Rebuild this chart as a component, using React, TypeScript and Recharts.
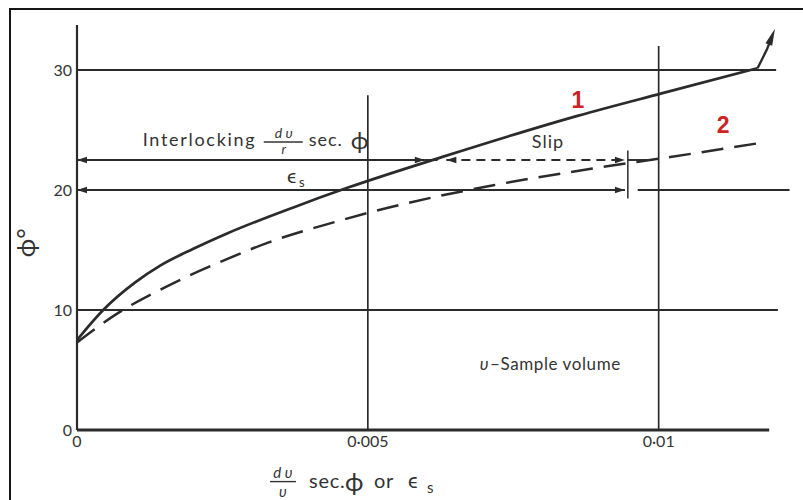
import React from 'react';
import { ComposedChart, Line, XAxis, YAxis, ReferenceLine, ReferenceDot } from 'recharts';

// Strain axis ticks and their printed labels (raised decimal point)
const strainTicks = [0, 0.005, 0.01];
const strainTickLabels = ['0', '0·005', '0·01'];
const phiTicks = [0, 10, 20, 30];

// Curve 1 (solid): angle of friction vs dv/v sec φ
const curve1Strain = [0, 0.00045, 0.001, 0.00143, 0.002, 0.00259, 0.00372, 0.00466, 0.00631, 0.00862, 0.01005, 0.0117];
const curve1Phi = [7.5, 10.0, 12.3, 13.7, 15.1, 16.4, 18.55, 20.2, 22.8, 26.2, 28.05, 30.15];

// Final upturn of curve 1 ending in an arrow
const tipStrain = [0.0117, 0.01186, 0.0119];
const tipPhi = [30.15, 31.7, 32.2];

// Curve 2 (dashed): φ against εs
const curve2Strain = [0, 0.00069, 0.0016, 0.00246, 0.00345, 0.00441, 0.00533, 0.00716, 0.00888, 0.0102, 0.01172];
const curve2Phi = [7.3, 9.7, 12.1, 14.0, 15.9, 17.3, 18.5, 20.4, 21.8, 22.75, 23.9];

// Construction lines
const gridPhi = [10, 30];
const interlockPhi = 22.5;
const strainPhi = 20;
const interlockEnd = 0.00598;
const curve1Cross = 0.0062;
const slipStart = 0.00635;
const slipEnd = 0.00942;

const curve1 = curve1Strain.map((x, i) => ({ x, phi: curve1Phi[i] }));
const tip = tipStrain.map((x, i) => ({ x, phi: tipPhi[i] }));
const curve2 = curve2Strain.map((x, i) => ({ x, phi: curve2Phi[i] }));

const INK = '#2b2b2b';
const TEXT = '#333333';
const RED = '#cc2323';
const FONT = "Lato, 'DejaVu Sans', sans-serif";

function head(tx: number, ty: number, fx: number, fy: number, len = 10, half = 3.2) {
  const dx = tx - fx;
  const dy = ty - fy;
  const d = Math.hypot(dx, dy) || 1;
  const ux = dx / d;
  const uy = dy / d;
  const bx = tx - ux * len;
  const by = ty - uy * len;
  const px = -uy * half;
  const py = ux * half;
  return (
    <polygon
      points={`${tx},${ty} ${bx + px},${by + py} ${bx - px},${by - py}`}
      fill={INK}
    />
  );
}

type SegOpts = { start?: boolean; end?: boolean; width?: number; dash?: string };

const segShape = (o: SegOpts = {}) => (p: any) => {
  const { x1, y1, x2, y2 } = p;
  return (
    <g>
      <line
        x1={x1}
        y1={y1}
        x2={x2}
        y2={y2}
        stroke={INK}
        strokeWidth={o.width ?? 1.9}
        strokeDasharray={o.dash}
      />
      {o.start && head(x1, y1, x2, y2)}
      {o.end && head(x2, y2, x1, y1)}
    </g>
  );
};

// Arrowhead drawn at the last point of the upturn
const TipHead = (p: any) => {
  const { cx, cy, index, points } = p;
  if (index !== tipStrain.length - 1 || cx == null) return <g key={`tip-${index}`} />;
  const prev = points && points[index - 1];
  const fx = prev ? prev.x : cx - 1;
  const fy = prev ? prev.y : cy + 8;
  const d = Math.hypot(cx - fx, cy - fy) || 1;
  const tx = cx + ((cx - fx) / d) * 16;
  const ty = cy + ((cy - fy) / d) * 16;
  return <g key={`tip-${index}`}>{head(tx, ty, cx, cy, 17, 3.6)}</g>;
};

const textProps = { fill: TEXT, fontFamily: FONT };

const InterlockingLabel = (p: any) => (
  <g transform={`translate(${p.cx},${p.cy})`} {...textProps}>
    <text x={0} y={0} fontSize={18} letterSpacing={1.7}>Interlocking</text>
    <text x={141} y={-8} fontSize={14} fontStyle="italic" textAnchor="middle">d υ</text>
    <line x1={121} y1={-4} x2={160} y2={-4} stroke={TEXT} strokeWidth={1.4} />
    <text x={141} y={8} fontSize={13} fontStyle="italic" textAnchor="middle">r</text>
    <text x={166} y={0} fontSize={18} letterSpacing={1}>sec.</text>
    <text x={208} y={3} fontSize={24}>ϕ</text>
  </g>
);

const EpsLabel = (p: any) => (
  <g transform={`translate(${p.cx},${p.cy})`} {...textProps}>
    <text x={0} y={0} fontSize={20}>ϵ</text>
    <text x={12} y={4} fontSize={13}>s</text>
  </g>
);

const SlipLabel = (p: any) => (
  <text x={p.cx} y={p.cy} fontSize={18} letterSpacing={1} {...textProps}>Slip</text>
);

const VolumeLabel = (p: any) => (
  <text x={p.cx} y={p.cy} fontSize={17} letterSpacing={0.6} textAnchor="end" {...textProps}>
    <tspan fontStyle="italic" fontSize={17}>υ</tspan>
    <tspan dx={1}>–</tspan>
    <tspan>Sample  volume</tspan>
  </text>
);

const RedNum = (label: string) => (p: any) => (
  <text
    x={p.cx}
    y={p.cy}
    fontSize={23}
    fontWeight="bold"
    fill={RED}
    fontFamily="'Liberation Sans', Arial, sans-serif"
    textAnchor="middle"
    dominantBaseline="central"
  >
    {label}
  </text>
);

const PhiTitle = (p: any) => (
  <text
    x={p.cx}
    y={p.cy}
    fontSize={25}
    textAnchor="middle"
    dominantBaseline="central"
    transform={`rotate(-90, ${p.cx}, ${p.cy})`}
    {...textProps}
  >
    ϕ°
  </text>
);

const StrainTitle = (p: any) => (
  <g transform={`translate(${p.cx},${p.cy})`} {...textProps}>
    <text x={14} y={-10} fontSize={15} fontStyle="italic" textAnchor="middle">d υ</text>
    <line x1={1} y1={-6} x2={27} y2={-6} stroke={TEXT} strokeWidth={1.4} />
    <text x={14} y={9} fontSize={15} fontStyle="italic" textAnchor="middle">υ</text>
    <text x={40} y={0} fontSize={20} letterSpacing={0.8}>sec.</text>
    <text x={76} y={3} fontSize={25}>ϕ</text>
    <text x={105} y={0} fontSize={20} letterSpacing={0.8}>or</text>
    <text x={139} y={0} fontSize={21}>ϵ</text>
    <text x={158} y={5} fontSize={15}>s</text>
  </g>
);

export default function App() {
  return (
    <div
      style={{
        position: 'absolute',
        left: 0,
        top: 0,
        width: 803,
        height: 500,
        background: '#ffffff',
        overflow: 'hidden',
      }}
    >
      <div
        style={{
          position: 'absolute',
          left: 9,
          top: 8,
          width: 803,
          height: 500,
          borderLeft: '2px solid #161616',
          borderTop: '2px solid #161616',
        }}
      />
      <div style={{ position: 'absolute', left: 0, top: 0 }}>
        <ComposedChart width={803} height={500} margin={{ top: 22, right: 28, bottom: 0, left: 0 }}>
          <XAxis
            dataKey="x"
            type="number"
            domain={[0, 0.012]}
            allowDataOverflow
            ticks={strainTicks}
            tickFormatter={(v: number) => strainTickLabels[strainTicks.indexOf(v)] ?? ''}
            axisLine={false}
            tickLine={false}
            tickSize={3}
            tickMargin={3}
            height={70}
            tick={{ fontSize: 16, fill: TEXT, fontFamily: FONT }}
          />
          <YAxis
            type="number"
            domain={[0, 34]}
            allowDataOverflow
            ticks={phiTicks}
            axisLine={false}
            tickLine={false}
            tickSize={3}
            tickMargin={2}
            width={77}
            tick={{ fontSize: 16, fill: TEXT, fontFamily: FONT }}
          />

          {/* horizontal guide lines */}
          {gridPhi.map((v) => (
            <ReferenceLine
              key={`g${v}`}
              segment={[{ x: 0, y: v }, { x: v === 30 ? 0.01202 : 0.01205, y: v }]}
              ifOverflow="visible"
              shape={segShape({ width: 2 })}
            />
          ))}
          {/* vertical guide lines */}
          <ReferenceLine segment={[{ x: 0.005, y: 0 }, { x: 0.005, y: 27.9 }]} ifOverflow="visible" shape={segShape({ width: 1.7 })} />
          <ReferenceLine segment={[{ x: 0.01, y: 0 }, { x: 0.01, y: 32 }]} ifOverflow="visible" shape={segShape({ width: 1.7 })} />

          {/* interlocking and slip components */}
          <ReferenceLine segment={[{ x: 0, y: interlockPhi }, { x: interlockEnd, y: interlockPhi }]} ifOverflow="visible" shape={segShape({ start: true, end: true })} />
          <ReferenceLine segment={[{ x: interlockEnd, y: interlockPhi }, { x: curve1Cross, y: interlockPhi }]} ifOverflow="visible" shape={segShape()} />
          <ReferenceLine segment={[{ x: slipStart, y: interlockPhi }, { x: slipEnd, y: interlockPhi }]} ifOverflow="visible" shape={segShape({ start: true, end: true, dash: '9 6' })} />
          <ReferenceLine segment={[{ x: 0.00947, y: interlockPhi }, { x: 0.0099, y: interlockPhi }]} ifOverflow="visible" shape={segShape()} />
          <ReferenceLine segment={[{ x: 0, y: strainPhi }, { x: slipEnd, y: strainPhi }]} ifOverflow="visible" shape={segShape({ start: true, end: true })} />
          <ReferenceLine segment={[{ x: 0.00964, y: strainPhi }, { x: 0.01225, y: strainPhi }]} ifOverflow="visible" shape={segShape()} />
          <ReferenceLine segment={[{ x: 0.00947, y: 19.3 }, { x: 0.00947, y: 23.3 }]} ifOverflow="visible" shape={segShape({ width: 1.5 })} />

          {/* axes */}
          <ReferenceLine segment={[{ x: 0, y: 0 }, { x: 0.0119, y: 0 }]} ifOverflow="visible" shape={segShape({ width: 2.8 })} />
          <ReferenceLine segment={[{ x: 0, y: 0 }, { x: 0, y: 33.75 }]} ifOverflow="visible" shape={segShape({ width: 2.2 })} />

          <Line
            data={curve2}
            dataKey="phi"
            type="monotone"
            stroke={INK}
            strokeWidth={2.5}
            strokeDasharray="22 11"
            dot={false}
            activeDot={false}
            isAnimationActive={false}
          />
          <Line
            data={curve1}
            dataKey="phi"
            type="monotone"
            stroke={INK}
            strokeWidth={2.7}
            dot={false}
            activeDot={false}
            isAnimationActive={false}
          />
          <Line
            data={tip}
            dataKey="phi"
            type="linear"
            stroke={INK}
            strokeWidth={2.4}
            dot={TipHead}
            activeDot={false}
            isAnimationActive={false}
          />

          {/* annotations */}
          <ReferenceDot x={0.00113} y={23.67} r={0} ifOverflow="visible" shape={InterlockingLabel} />
          <ReferenceDot x={0.00361} y={20.58} r={0} ifOverflow="visible" shape={EpsLabel} />
          <ReferenceDot x={0.00782} y={23.5} r={0} ifOverflow="visible" shape={SlipLabel} />
          <ReferenceDot x={0.00935} y={5.0} r={0} ifOverflow="visible" shape={VolumeLabel} />
          <ReferenceDot x={0.00861} y={27.5} r={0} ifOverflow="visible" shape={RedNum('1')} />
          <ReferenceDot x={0.01111} y={25.4} r={0} ifOverflow="visible" shape={RedNum('2')} />
          <ReferenceDot x={-0.00089} y={15.6} r={0} ifOverflow="visible" shape={PhiTitle} />
          <ReferenceDot x={0.0033} y={-4.8} r={0} ifOverflow="visible" shape={StrainTitle} />
        </ComposedChart>
      </div>
    </div>
  );
}
